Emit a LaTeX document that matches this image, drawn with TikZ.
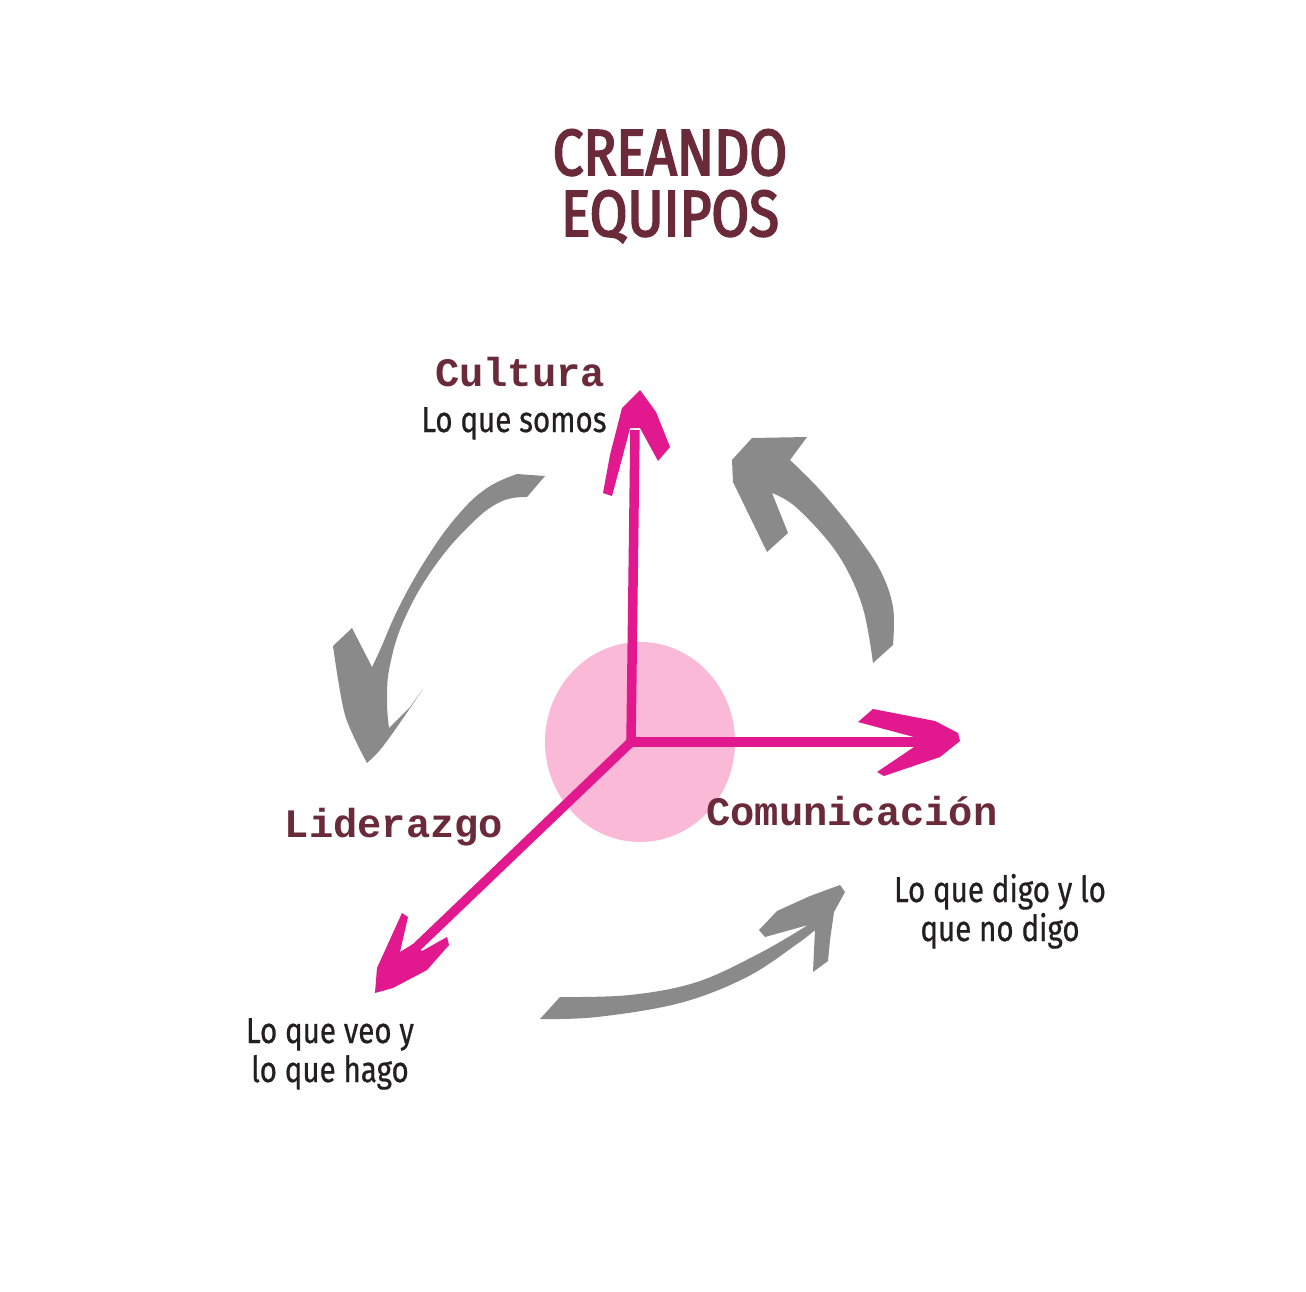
\documentclass[tikz,border=0pt]{standalone}
\usepackage{fontspec}
\setmainfont{Fira Sans}
\newfontfamily\titlefont[FakeStretch=0.84, FakeBold=3]{Fira Sans}
\newfontfamily\subfont[FakeStretch=0.82, FakeBold=0.6]{Fira Sans}
\newfontfamily\typefont{Liberation Mono}
\definecolor{maroon}{HTML}{6A2A3A}
\definecolor{magentapink}{HTML}{E2188F}
\definecolor{softpink}{HTML}{FBB9D8}
\definecolor{arrowgray}{HTML}{8A8A8A}
\definecolor{inkdark}{HTML}{231F20}
\tikzset{
  titletext/.style={text=maroon, font=\titlefont\fontsize{37}{40}\selectfont, anchor=base, inner sep=0pt},
  labeltext/.style={text=maroon, font=\typefont\bfseries\fontsize{23}{26}\selectfont, anchor=base, inner sep=0pt},
  subtext/.style={text=inkdark, font=\subfont\fontsize{20.5}{24}\selectfont, anchor=base, inner sep=0pt},
  pinkshaft/.style={draw=magentapink, line width=0.19cm, line cap=butt},
  pinkhead/.style={fill=magentapink},
  grayshape/.style={fill=arrowgray}
}
\begin{document}
\begin{tikzpicture}[x=0.02cm, y=-0.02cm]
\fill[white] (0,0) rectangle (1306,1292);
\useasboundingbox (0,0) rectangle (1306,1292);

% title
\node[titletext] (t1) at (670,175) {CREANDO};
\node[titletext] (t2) at (670,236) {EQUIPOS};

% central disc
\fill[softpink] (640,742) ellipse [x radius=95, y radius=100];

% axes
\coordinate (o) at (631,742);
\coordinate (up) at (635,430);
\coordinate (rt) at (918,742);
\coordinate (dl) at (400,963);
\draw[pinkshaft] (o) -- (up);
\draw[pinkshaft] (o) -- (rt);
\draw[pinkshaft] (o) -- (dl);
\fill[magentapink] (o) circle [radius=5];

% arrow heads
\fill[pinkhead] (640,390) -- (656,412) -- (670,447) -- (658,461) -- (640,428) -- (630,428) -- (627,440) -- (612,496) -- (603,493) -- (610,455) -- (622,408) -- cycle;
\fill[pinkhead] (958,733) -- (935,721) -- (873,709) -- (858,722) -- (914,737) -- (914,747) -- (877,772) -- (884,776) -- (940,757) -- (960,741) -- cycle;
\fill[pinkhead] (375,993) -- (377,968) -- (402,913) -- (408,917) -- (400,952) -- (413,944) -- (422,951) -- (447,937) -- (449,945) -- (427,970) -- (393,988) -- cycle;

% gray cycle arrows
\fill[grayshape] (527,497) -- (545,476) -- (517,474)
  -- plot[smooth, tension=0.7] coordinates {(517,474) (487,488) (458,515) (428,556) (400,605) (380,650) (372,667)}
  -- (352,628) -- (333,646)
  -- plot[smooth] coordinates {(333,646) (345,715) (367,763)}
  -- plot[smooth] coordinates {(367,763) (380,750) (397,727) (423,689)}
  -- (410,707) -- (389,728)
  -- plot[smooth, tension=0.7] coordinates {(389,728) (387,700) (390,665) (404,620) (432,570) (468,527) (500,502) (527,497)}
  -- cycle;

\fill[grayshape] (873,663) -- (893,645)
  -- plot[smooth, tension=0.6] coordinates {(893,645) (893,607) (880,570) (853,530) (820,490) (790,460)}
  -- (807,437) -- (752,438) -- (732,460) -- (733,482) -- (767,552) -- (788,533) -- (772,493)
  -- plot[smooth, tension=0.6] coordinates {(772,493) (797,508) (837,553) (862,605) (873,663)}
  -- cycle;

\fill[grayshape] (540,1019) -- (560,997)
  -- plot[smooth, tension=0.6] coordinates {(560,997) (630,995) (697,982) (760,953) (808,925)}
  -- (765,937) -- (759,930) -- (777,911) -- (810,896) -- (840,885) -- (845,892) -- (834,912) -- (830,940) -- (828,961) -- (813,972) -- (815,930)
  -- plot[smooth, tension=0.6] coordinates {(815,930) (797,944) (747,977) (680,1003) (597,1017) (540,1019)}
  -- cycle;

% labels
\node[labeltext] (cul) at (520,386) {Cultura};
\node[subtext] (culs) at (514,432) {Lo que somos};
\node[labeltext] (lid) at (394,837) {Liderazgo};
\node[labeltext] (com) at (852,825) {Comunicación};
\node[subtext] (coms1) at (1000,902) {Lo que digo y lo};
\node[subtext] (coms2) at (1000,941) {que no digo};
\node[subtext] (lids1) at (330,1043) {Lo que veo y};
\node[subtext] (lids2) at (330,1082) {lo que hago};
\end{tikzpicture}
\end{document}
